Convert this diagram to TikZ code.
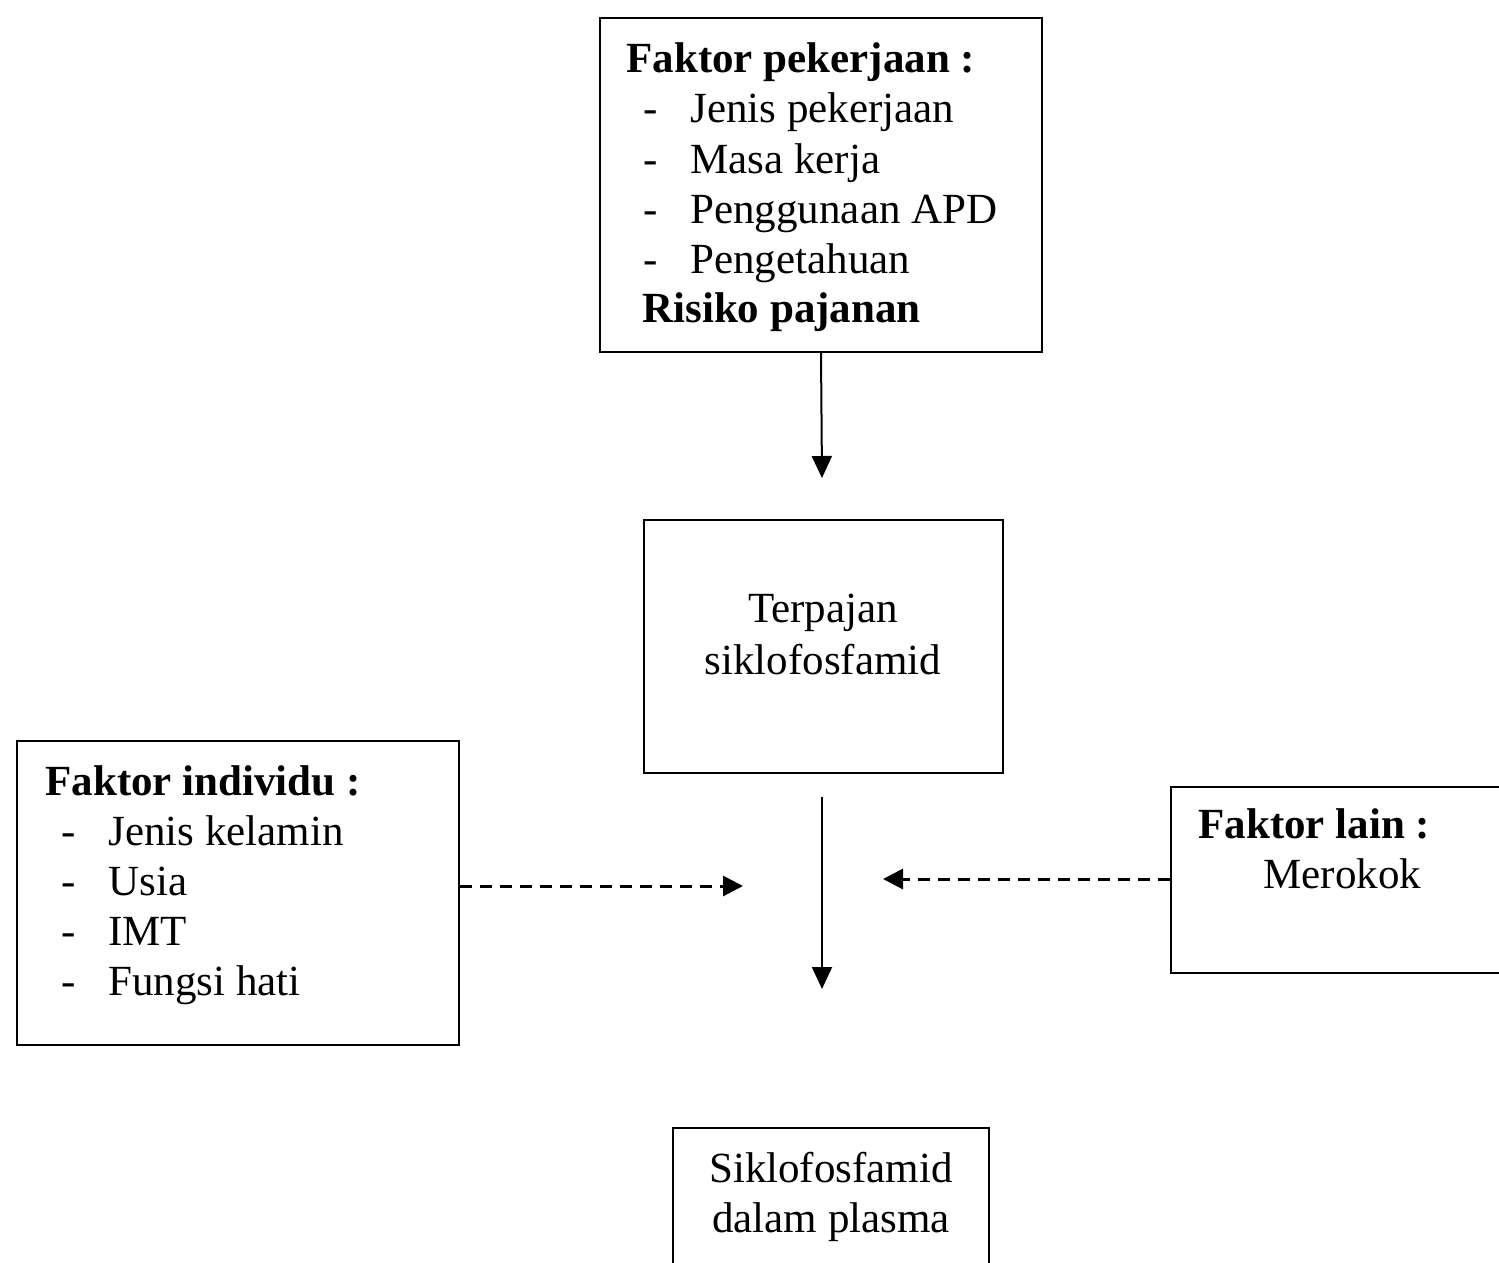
\documentclass[tikz,border=0pt]{standalone}
\usepackage{fontspec}
\setmainfont{Liberation Serif}
\usetikzlibrary{arrows.meta}

\newcommand{\ukuran}{\fontsize{21.5}{25}\selectfont}

\begin{document}
\begin{tikzpicture}[x=0.5pt,y=-0.5pt,
    kotak/.style={draw, line width=1pt, inner sep=0pt},
    teks/.style={anchor=base west, inner sep=0pt, font=\ukuran},
    tengah/.style={anchor=base, inner sep=0pt, font=\ukuran},
    panah/.style={line width=1pt, -{Triangle[length=11pt,width=10pt]}},
    putus/.style={line width=1.5pt, dash pattern=on 6pt off 4pt, -{Triangle[length=10pt,width=10pt]}}]

\useasboundingbox (0,0) rectangle (1499,1263);

% kotak
\node[kotak, minimum width=221pt, minimum height=167pt] (pekerjaan) at (821,185) {};
\node[kotak, minimum width=179.5pt, minimum height=126.5pt] (terpajan) at (823.5,646.5) {};
\node[kotak, minimum width=221pt, minimum height=152pt] (individu) at (238,893) {};
\node[kotak, minimum width=172pt, minimum height=93pt] (lain) at (1343,880) {};
\node[kotak, minimum width=158pt, minimum height=81pt] (plasma) at (831,1209) {};

% faktor pekerjaan
\node[teks, font=\ukuran\bfseries] (judulKerja) at (626,73) {Faktor pekerjaan :};
\foreach \isi [count=\i] in {Jenis pekerjaan, Masa kerja, Penggunaan APD, Pengetahuan} {
    \node[teks] (stripKerja\i) at (643,73+50*\i) {-};
    \node[teks] (kerja\i) at (690,73+50*\i) {\isi};
}
\node[teks, font=\ukuran\bfseries] (risiko) at (642,322) {Risiko pajanan};

% terpajan
\node[tengah] (terpajan1) at (823,622) {Terpajan};
\node[tengah] (terpajan2) at (823,674) {siklofosfamid};

% faktor individu
\node[teks, font=\ukuran\bfseries] (judulIndividu) at (45,795) {Faktor individu :};
\foreach \isi [count=\i] in {Jenis kelamin, Usia, IMT, Fungsi hati} {
    \node[teks] (stripIndividu\i) at (61,795+50*\i) {-};
    \node[teks] (individu\i) at (108,795+50*\i) {\isi};
}

% faktor lain
\node[teks, font=\ukuran\bfseries] (judulLain) at (1198,838) {Faktor lain :};
\node[teks] (merokok) at (1263,888) {Merokok};

% plasma
\node[tengah] (plasma1) at (831,1182) {Siklofosfamid};
\node[tengah] (plasma2) at (831,1232) {dalam plasma};

% panah
\coordinate (ujung1) at (822,478);
\coordinate (pangkal2) at (822,797);
\coordinate (ujung2) at (822,989);
\coordinate (ujungKiri) at (743,886);
\coordinate (ujungKanan) at (883,879);

\draw[panah] (pekerjaan.south) -- (ujung1);
\draw[panah] (pangkal2) -- (ujung2);
\draw[putus] (individu.east |- ujungKiri) -- (ujungKiri);
\draw[putus] (lain.west |- ujungKanan) -- (ujungKanan);

\end{tikzpicture}
\end{document}
